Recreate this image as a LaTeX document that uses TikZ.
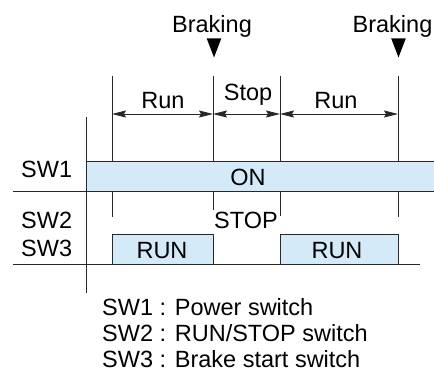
\documentclass[tikz,border=0pt]{standalone}
\usepackage{fontspec}
\setmainfont{Liberation Sans}
\usetikzlibrary{arrows.meta,shapes.geometric}
\definecolor{barblue}{RGB}{213,234,248}
\definecolor{ink}{RGB}{40,40,40}
\begin{document}
\begin{tikzpicture}[x=1pt,y=-1pt,
  txt/.style={inner sep=0pt,anchor=base,font=\fontsize{23.5}{26}\selectfont},
  txtw/.style={txt,anchor=base west},
  ln/.style={draw=ink,line width=0.9pt},
  dim/.style={ln,{Stealth[length=14pt,width=7pt,inset=2pt]}-{Stealth[length=14pt,width=7pt,inset=2pt]}},
  brk/.style={isosceles triangle,shape border rotate=-90,isosceles triangle apex angle=42,fill=black,draw=none,inner sep=0pt,minimum height=19pt,minimum width=14pt,anchor=apex}
]
\useasboundingbox (0,0) rectangle (434,383);
% coordinates
\coordinate (t1) at (112,76); \coordinate (t2) at (213,76);
\coordinate (t3) at (280,76); \coordinate (t4) at (398,76);
\coordinate (a1) at (112,114); \coordinate (a2) at (213,114);
\coordinate (a3) at (280,114); \coordinate (a4) at (398,114);
\coordinate (b1) at (112,161); \coordinate (b2) at (213,161);
\coordinate (b3) at (280,161); \coordinate (b4) at (398,161);
\coordinate (c1) at (112,191); \coordinate (c2) at (213,191);
\coordinate (c3) at (280,191); \coordinate (c4) at (398,191);
\coordinate (d1) at (112,217); \coordinate (d2) at (213,210);
\coordinate (d3) at (280,216); \coordinate (d4) at (398,217);
% SW1 bar
\fill[barblue] (86,161) rectangle (434,191);
\draw[ln] (86,161) -- (434,161);
\draw[ln] (13,191) -- (434,191);
% SW3 boxes
\draw[ln,fill=barblue] (112,264) -- (112,234) -- (213,234) -- (213,264);
\draw[ln,fill=barblue] (280,264) -- (280,234) -- (398,234) -- (398,264);
\draw[ln] (13,264) -- (420,264);
% axis
\coordinate (ax1) at (86,117); \coordinate (ax2) at (86,293);
\draw[ln] (ax1) -- (ax2);
% tick lines
\foreach \i in {1,2,3,4}{
  \draw[ln] (t\i) -- (b\i);
  \draw[ln] (c\i) -- (d\i);
}
% dimension arrows
\draw[dim] (a1) -- (a2);
\draw[dim] (a2) -- (a3);
\draw[dim] (a3) -- (a4);
% labels
\node[txt] (run1) at (163,108) {Run};
\node[txt] (stop) at (248,100) {Stop};
\node[txt] (run2) at (336,108) {Run};
\node[txt] (brk1) at (212,32) {Braking};
\node[txt] (brk2) at (392.5,32) {Braking};
\node[brk] (tri1) at (214,58) {};
\node[brk] (tri2) at (398.5,58) {};
\node[txtw] (sw1) at (21,177) {SW1};
\node[txtw] (sw2) at (21,228) {SW2};
\node[txtw] (sw3) at (21,256) {SW3};
\node[txt] (on) at (248,185) {ON};
\node[txt] (stoplbl) at (246,228) {STOP};
\node[txt] (runa) at (162,258) {RUN};
\node[txt] (runb) at (337,258) {RUN};
\node[txtw] (l1) at (102,315) {SW1 : Power switch};
\node[txtw] (l2) at (102,341) {SW2 : RUN/STOP switch};
\node[txtw] (l3) at (102,367) {SW3 : Brake start switch};
\end{tikzpicture}
\end{document}
